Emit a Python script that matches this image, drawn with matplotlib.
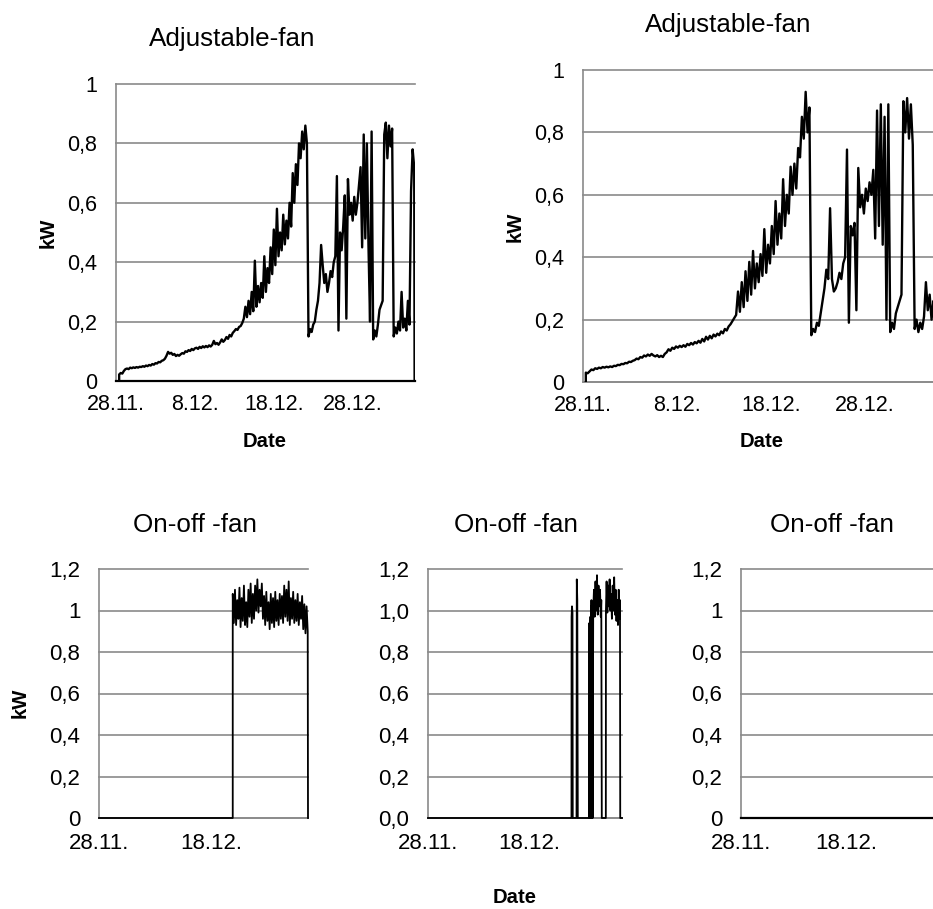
import numpy as np
import matplotlib
matplotlib.use("Agg")
import matplotlib.pyplot as plt

plt.rcParams['font.family'] = ['Liberation Sans', 'DejaVu Sans']

# ---- data (kW, day 0 = 28.11.) ----
# adjustable fan, first measurement: sampled every 0.2 days from day 0.4
adj1_start = 0.4
adj1_step = 0.2
adj1_end = 37.85
adj1_kw = [
    0.022, 0.027, 0.025, 0.034, 0.040, 0.042, 0.040, 0.045, 0.043,
    0.046, 0.044, 0.047, 0.045, 0.048, 0.047, 0.050, 0.048, 0.052, 0.050,
    0.054, 0.052, 0.057, 0.055, 0.060, 0.059, 0.064, 0.063, 0.068, 0.070,
    0.075, 0.085, 0.098, 0.092, 0.095, 0.088, 0.091, 0.084, 0.088, 0.085,
    0.090, 0.094, 0.092, 0.100, 0.098, 0.104, 0.101, 0.108, 0.104, 0.110,
    0.112, 0.108, 0.115, 0.111, 0.117, 0.113, 0.118, 0.114, 0.120, 0.116,
    0.122, 0.135, 0.124, 0.128, 0.122, 0.130, 0.140, 0.132, 0.138, 0.148,
    0.142, 0.155, 0.150, 0.162, 0.168, 0.175, 0.172, 0.182, 0.185, 0.195,
    0.210, 0.250, 0.215, 0.270, 0.225, 0.300, 0.235, 0.405, 0.250, 0.320,
    0.265, 0.330, 0.280, 0.420, 0.300, 0.380, 0.330, 0.450, 0.360, 0.510,
    0.390, 0.580, 0.420, 0.500, 0.440, 0.560, 0.460, 0.540, 0.480, 0.600,
    0.520, 0.700, 0.600, 0.730, 0.660, 0.800, 0.750, 0.840, 0.780, 0.860, 0.800,
    0.150, 0.175, 0.165, 0.190, 0.200, 0.240, 0.270, 0.330, 0.458,
    0.390, 0.330, 0.360, 0.300, 0.330, 0.370, 0.350, 0.400, 0.420, 0.690,
    0.170, 0.500, 0.440, 0.520, 0.625, 0.210, 0.680, 0.560, 0.600, 0.540,
    0.620, 0.560, 0.600, 0.660, 0.720, 0.450, 0.830, 0.480, 0.800, 0.460,
    0.200, 0.840, 0.140, 0.170, 0.150, 0.190, 0.240, 0.255, 0.270, 0.830,
    0.870, 0.750, 0.860, 0.790, 0.850, 0.150, 0.180, 0.160, 0.200, 0.170,
    0.300, 0.180, 0.210, 0.170, 0.270, 0.190, 0.640, 0.780, 0.720,
]
adj1_zero_days = [0.0, 37.85]
adj1_zero_kw = [0.0, 0.0]

# adjustable fan, second measurement: every 0.2 days from day 0.3
adj2_start = 0.3
adj2_step = 0.2
adj2_kw = [
    0.030, 0.028, 0.034, 0.040, 0.038, 0.044, 0.042, 0.046, 0.044, 0.048,
    0.046, 0.049, 0.047, 0.050, 0.048, 0.052, 0.051, 0.055, 0.054, 0.058,
    0.057, 0.061, 0.060, 0.065, 0.064, 0.068, 0.070, 0.075, 0.073, 0.080,
    0.078, 0.085, 0.082, 0.088, 0.084, 0.090, 0.085, 0.082, 0.086, 0.080,
    0.084, 0.080, 0.090, 0.095, 0.105, 0.100, 0.110, 0.106, 0.114, 0.110,
    0.116, 0.112, 0.118, 0.113, 0.122, 0.118, 0.125, 0.120, 0.128, 0.124,
    0.132, 0.126, 0.138, 0.130, 0.145, 0.136, 0.148, 0.140, 0.152, 0.146,
    0.155, 0.150, 0.162, 0.156, 0.170, 0.165, 0.178, 0.185, 0.195, 0.205,
    0.215, 0.290, 0.225, 0.320, 0.240, 0.355, 0.260, 0.385, 0.280, 0.420,
    0.300, 0.380, 0.320, 0.410, 0.340, 0.490, 0.350, 0.440, 0.380, 0.500,
    0.410, 0.580, 0.440, 0.540, 0.460, 0.650, 0.500, 0.600, 0.540, 0.690,
    0.600, 0.700, 0.620, 0.750, 0.720, 0.850, 0.780, 0.930, 0.800, 0.880,
    0.150, 0.170, 0.160, 0.190, 0.180, 0.220, 0.260, 0.300, 0.360, 0.330,
    0.557, 0.330, 0.290, 0.300, 0.320, 0.350, 0.330, 0.380, 0.400, 0.745,
    0.190, 0.500, 0.470, 0.510, 0.230, 0.686, 0.560, 0.600, 0.540, 0.620,
    0.580, 0.640, 0.600, 0.680, 0.460, 0.870, 0.500, 0.890, 0.440, 0.850,
    0.200, 0.890, 0.160, 0.190, 0.170, 0.220, 0.240, 0.260, 0.280, 0.900,
    0.800, 0.910, 0.780, 0.890, 0.760, 0.170, 0.200, 0.160, 0.190, 0.170,
    0.210, 0.320, 0.230, 0.280, 0.200, 0.260, 0.210,
]

# on-off fan 1: off until day 23.9, then every 0.2 days
onoff1_start = 23.9
onoff1_step = 0.2
onoff1_end = 37.35
onoff1_kw = [
    1.08, 0.94, 1.10, 0.93, 1.05, 0.96, 1.11, 0.92, 1.06, 0.95,
    1.12, 0.93, 1.04, 0.92, 1.10, 0.97, 1.13, 0.94, 1.08, 0.96,
    1.12, 1.00, 1.15, 0.99, 1.10, 1.02, 1.13, 0.96, 1.07, 0.93,
    1.09, 0.95, 1.04, 0.91, 1.08, 0.94, 1.06, 0.92, 1.09, 0.95,
    1.05, 0.93, 1.08, 0.96, 1.07, 0.94, 1.12, 0.97, 1.10, 0.95,
    1.14, 0.93, 1.06, 0.96, 1.09, 0.94, 1.05, 0.95, 1.08, 0.93,
    1.04, 0.96, 1.07, 0.91, 1.03, 0.89, 1.02, 0.90,
]

# on-off fan 2: irregular switching, (day, kW)
onoff2 = [
    (0.0, 0.0), (28.4, 0.0), (28.42, 0.97), (28.5, 1.02), (28.6, 0.99), (28.65, 0.0),
    (29.4, 0.0), (29.45, 1.15), (29.55, 1.05), (29.6, 0.5), (29.65, 0.0),
    (31.9, 0.0), (31.95, 0.94), (32.0, 0.0), (32.05, 0.95), (32.1, 0.0),
    (32.15, 0.97), (32.2, 0.05), (32.25, 1.02), (32.3, 0.0), (32.35, 1.05),
    (32.4, 0.0), (32.45, 0.49), (32.5, 0.0), (32.55, 0.98), (32.6, 0.0),
    (32.65, 0.5), (32.7, 1.0), (32.85, 1.10), (33.0, 0.97), (33.15, 1.14),
    (33.3, 1.00), (33.45, 1.17), (33.6, 0.98), (33.75, 1.12), (33.9, 1.02),
    (34.05, 1.10), (34.2, 0.97), (34.3, 1.05), (34.4, 0.0), (35.2, 0.0),
    (35.22, 1.0), (35.35, 1.14), (35.5, 0.99), (35.65, 1.12), (35.8, 1.02),
    (35.95, 1.15), (36.1, 1.0), (36.25, 1.08), (36.4, 0.96), (36.55, 1.12),
    (36.7, 1.0), (36.85, 1.16), (37.0, 0.98), (37.15, 1.10), (37.3, 0.95),
    (37.45, 1.05), (37.6, 0.93), (37.75, 1.10), (37.9, 0.96), (38.0, 1.05),
    (38.05, 0.0), (38.4, 0.0),
]

# on-off fan 3: no operation
onoff3_days = [0.0, 38.5]
onoff3_kw = [0.0, 0.0]

W, H = 933, 909
grid_c = '#8a8a8a'


def fx(px):
    return px / W


def fy(py):
    return 1 - py / H


def make_ax(left, top, right, bottom):
    return fig.add_axes([fx(left), fy(bottom), (right - left) / W, (bottom - top) / H])


def style(ax, xmax, ymax, yticks, ylabels, xticks, xlabels, fs, xpad):
    ax.set_xlim(0, xmax)
    ax.set_ylim(0, ymax)
    ax.set_yticks(yticks)
    ax.set_yticklabels(ylabels)
    ax.set_xticks(xticks)
    ax.set_xticklabels(xlabels)
    ax.tick_params(axis='y', length=0, labelsize=fs, pad=13.5)
    ax.tick_params(axis='x', length=0, labelsize=fs, pad=xpad)
    for t in yticks:
        ax.axhline(t, color=grid_c, lw=1.2, zorder=0.5, clip_on=False)
    for s in ['top', 'right']:
        ax.spines[s].set_visible(False)
    ax.spines['left'].set_color(grid_c)
    ax.spines['bottom'].set_color(grid_c)
    ax.spines['left'].set_linewidth(1.2)
    ax.spines['bottom'].set_linewidth(1.2)


fig = plt.figure(figsize=(W / 100, H / 100), dpi=100)

top_ticks = [0, 0.2, 0.4, 0.6, 0.8, 1.0]
top_labels = ['0', '0,2', '0,4', '0,6', '0,8', '1']
bot_ticks = [0, 0.2, 0.4, 0.6, 0.8, 1.0, 1.2]

# panel 1
ax1 = make_ax(116, 84, 415, 381)
style(ax1, 37.9, 1.0, top_ticks, top_labels, [0, 10, 20, 30],
      ['28.11.', '8.12.', '18.12.', '28.12.'], 15.5, 9.5)
d1 = adj1_start + adj1_step * np.arange(len(adj1_kw))
ax1.plot(adj1_zero_days, adj1_zero_kw, color='black', lw=1.6, clip_on=False, zorder=4)
ax1.plot(np.concatenate([[adj1_start], d1, [adj1_end]]),
         np.concatenate([[0.0], adj1_kw, [0.0]]), color='black', lw=1.7, zorder=4)

# panel 2
ax2 = make_ax(583, 70, 940, 382)
style(ax2, 38, 1.0, top_ticks, top_labels, [0, 10, 20, 30],
      ['28.11.', '8.12.', '18.12.', '28.12.'], 15.5, 9.5)
d2 = adj2_start + adj2_step * np.arange(len(adj2_kw))
ax2.plot(np.concatenate([[adj2_start], d2]),
         np.concatenate([[0.0], adj2_kw]), color='black', lw=1.7, zorder=4)

# panel 3
ax3 = make_ax(99, 569, 308, 818)
style(ax3, 37.35, 1.2, bot_ticks, ['0', '0,2', '0,4', '0,6', '0,8', '1', '1,2'],
      [0, 20], ['28.11.', '18.12.'], 16, 10.5)
d3 = onoff1_start + onoff1_step * np.arange(len(onoff1_kw))
ax3.plot(np.concatenate([[0.0, onoff1_start], d3, [onoff1_end]]),
         np.concatenate([[0.0, 0.0], onoff1_kw, [0.0]]),
         color='black', lw=1.3, clip_on=False, zorder=4)

# panel 4
ax4 = make_ax(428, 569, 622, 818)
style(ax4, 38.4, 1.2, bot_ticks, ['0,0', '0,2', '0,4', '0,6', '0,8', '1,0', '1,2'],
      [0, 20], ['28.11.', '18.12.'], 16, 10.5)
d4, k4 = zip(*onoff2)
ax4.plot(d4, k4, color='black', lw=1.3, clip_on=False, zorder=4)

# panel 5
ax5 = make_ax(741, 569, 940.5, 818)
style(ax5, 38, 1.2, bot_ticks, ['0', '0,2', '0,4', '0,6', '0,8', '1', '1,2'],
      [0, 20], ['28.11.', '18.12.'], 16, 10.5)
ax5.plot(onoff3_days, onoff3_kw, color='black', lw=1.6, clip_on=False, zorder=4)

# titles and labels
tfs = 18.7
fig.text(fx(232), fy(45.7), 'Adjustable-fan', ha='center', va='baseline', fontsize=tfs)
fig.text(fx(728), fy(31.7), 'Adjustable-fan', ha='center', va='baseline', fontsize=tfs)
for cx in [195, 516, 832]:
    fig.text(fx(cx), fy(531.7), 'On-off -fan', ha='center', va='baseline', fontsize=tfs)

lfs = 14.6
fig.text(fx(265), fy(447.3), 'Date', ha='center', va='baseline', fontsize=lfs, fontweight='bold')
fig.text(fx(762), fy(447.3), 'Date', ha='center', va='baseline', fontsize=lfs, fontweight='bold')
fig.text(fx(515), fy(903.3), 'Date', ha='center', va='baseline', fontsize=lfs, fontweight='bold')
fig.text(fx(48.3), fy(233), 'kW', ha='center', va='center', rotation=90, fontsize=lfs, fontweight='bold')
fig.text(fx(515.3), fy(227.3), 'kW', ha='center', va='center', rotation=90, fontsize=lfs, fontweight='bold')
fig.text(fx(20.5), fy(703), 'kW', ha='center', va='center', rotation=90, fontsize=lfs, fontweight='bold')

fig.savefig('out.png', dpi=100)
